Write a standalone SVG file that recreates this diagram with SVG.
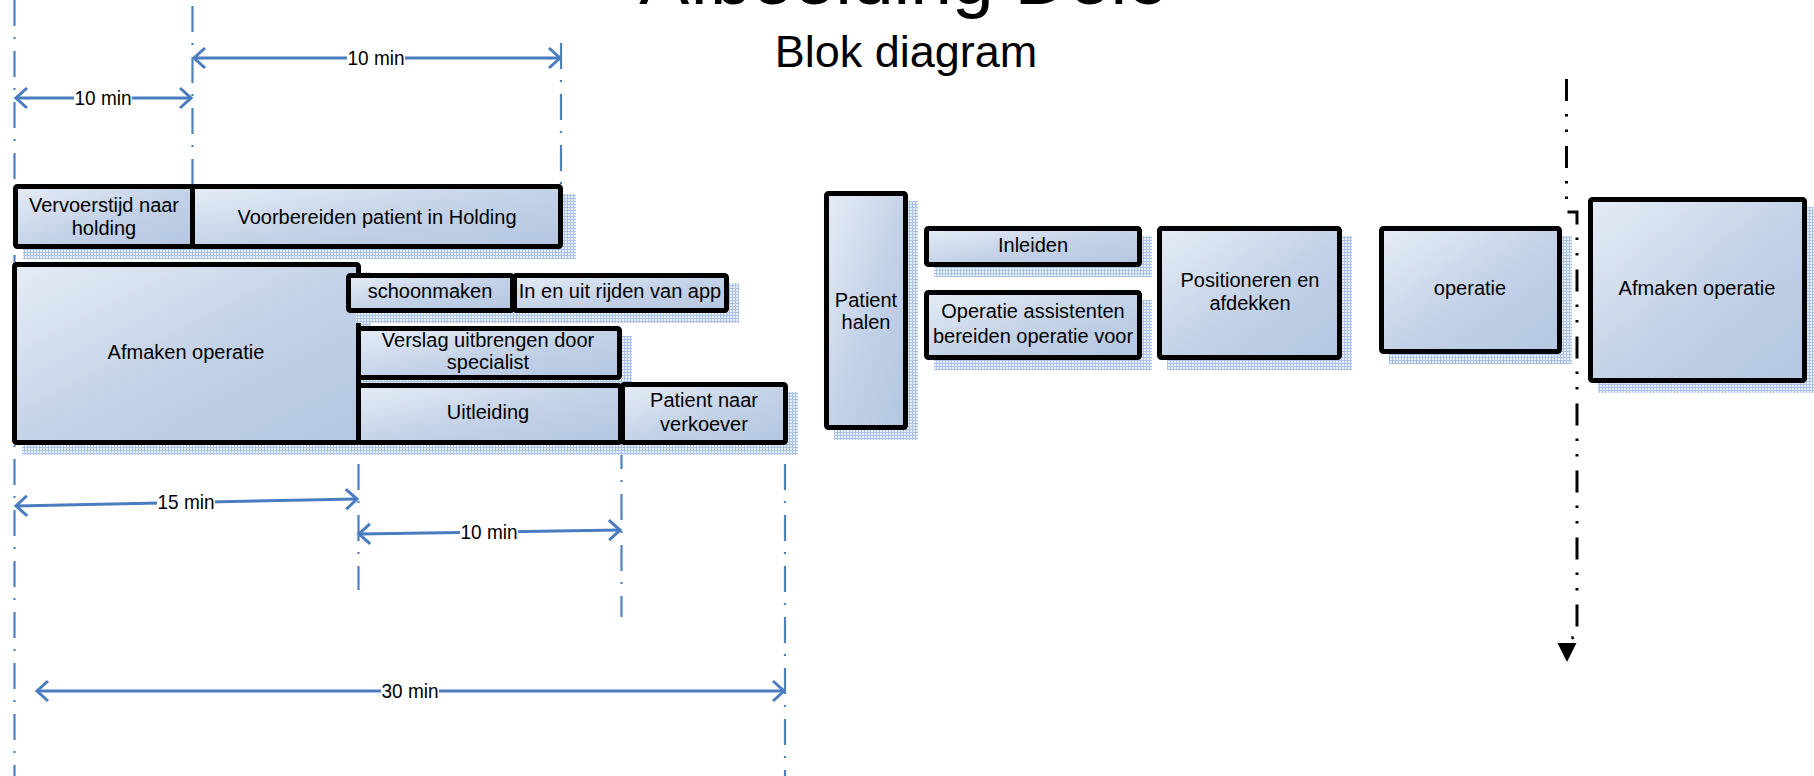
<svg xmlns="http://www.w3.org/2000/svg" width="1814" height="776" viewBox="0 0 1814 776">
<defs>
  <linearGradient id="boxFill" x1="0" y1="0" x2="1" y2="1">
    <stop offset="0" stop-color="#e6ecf6"/>
    <stop offset="0.55" stop-color="#c2d1e7"/>
    <stop offset="1" stop-color="#b4c6e1"/>
  </linearGradient>
  <pattern id="hatch" width="3" height="3" patternUnits="userSpaceOnUse">
    <rect width="3" height="3" fill="#e9eff8"/>
    <path d="M0,0.5H3M0.5,0V3" stroke="#a6bee0" stroke-width="0.9"/>
  </pattern>
  <marker id="chev" viewBox="-14 -12 16 24" refX="0" refY="0" markerWidth="16" markerHeight="24" markerUnits="userSpaceOnUse" orient="auto-start-reverse">
    <path d="M-11,-10 L0,0 L-11,10" fill="none" stroke="#4a7cc0" stroke-width="3"/>
  </marker>
  <marker id="tri" viewBox="0 -10 20 20" refX="0" refY="0" markerWidth="20" markerHeight="20" markerUnits="userSpaceOnUse" orient="auto">
    <polygon points="0,-9.5 19,0 0,9.5" fill="#000"/>
  </marker>
</defs>
<style>
  .t { font-family: "Liberation Sans", Arial, sans-serif; fill: #000; }
  .lbl { font-size: 20px; text-anchor: middle; }
  .dim { font-size: 21px; text-anchor: middle; }
  .box { fill: url(#boxFill); stroke: #000; stroke-width: 5; }
  .shadow { fill: url(#hatch); }
  .guide { stroke: #4f81bd; stroke-width: 2.2; fill: none; stroke-dasharray: 26 11 2 12; }
  .arrow { stroke: #4a7cc0; stroke-width: 3; fill: none; marker-start: url(#chev); marker-end: url(#chev); }
  .flow { stroke: #000; stroke-width: 3; fill: none; stroke-dasharray: 22 13 2.5 13 2.5 14; marker-end: url(#tri); }
  .bg { fill: #fff; }
</style>

<g id="title">
  <text class="t" x="904" y="4" font-size="75" text-anchor="middle">Afbeelding Delo</text>
  <text class="t" x="906" y="67" font-size="45" text-anchor="middle">Blok diagram</text>
</g>

<g id="connectors">
  <line class="guide" x1="14.5" y1="0" x2="14.5" y2="776"/>
  <line class="guide" x1="192.5" y1="6" x2="192.5" y2="186"/>
  <line class="guide" x1="561" y1="43" x2="561" y2="186"/>
  <line class="guide" x1="358.5" y1="413" x2="358.5" y2="590"/>
  <line class="guide" x1="621.5" y1="443" x2="621.5" y2="617"/>
  <line class="guide" x1="785" y1="413" x2="785" y2="776"/>

  <line class="arrow" x1="194" y1="58" x2="560" y2="58"/>
  <rect class="bg" x="347" y="47" width="58" height="22"/>
  <text class="t dim" x="376" y="65" textLength="57" lengthAdjust="spacingAndGlyphs">10 min</text>

  <line class="arrow" x1="16" y1="98" x2="191" y2="98"/>
  <rect class="bg" x="74" y="87" width="58" height="22"/>
  <text class="t dim" x="103" y="105" textLength="57" lengthAdjust="spacingAndGlyphs">10 min</text>

  <line class="arrow" x1="16" y1="506" x2="357" y2="499"/>
  <rect class="bg" x="157" y="491" width="58" height="22"/>
  <text class="t dim" x="186" y="509" textLength="57" lengthAdjust="spacingAndGlyphs">15 min</text>

  <line class="arrow" x1="359" y1="534" x2="620" y2="530"/>
  <rect class="bg" x="460" y="521" width="58" height="22"/>
  <text class="t dim" x="489" y="539" textLength="57" lengthAdjust="spacingAndGlyphs">10 min</text>

  <line class="arrow" x1="37" y1="691" x2="784" y2="691"/>
  <rect class="bg" x="381" y="680" width="58" height="22"/>
  <text class="t dim" x="410" y="698" textLength="57" lengthAdjust="spacingAndGlyphs">30 min</text>

  <path class="flow" d="M1566.5,79 V212 H1577 V636 L1567,640 V643"/>
</g>

<g id="node-vervoerstijd">
  <rect class="shadow" x="23" y="194" width="182" height="65"/>
  <rect class="box" x="15.5" y="186.5" width="177" height="60" rx="2"/>
  <text class="t lbl" x="104" y="212">Vervoerstijd naar</text>
  <text class="t lbl" x="104" y="235">holding</text>
</g>

<g id="node-voorbereiden">
  <rect class="shadow" x="200" y="194" width="376" height="65"/>
  <rect class="box" x="192.5" y="186.5" width="368" height="60" rx="2"/>
  <text class="t lbl" x="377" y="224">Voorbereiden patient in Holding</text>
</g>

<g id="node-afmaken-links">
  <rect class="shadow" x="22" y="272" width="349" height="183"/>
  <rect class="box" x="14.5" y="264.5" width="344" height="178" rx="2"/>
  <text class="t lbl" x="186" y="359">Afmaken operatie</text>
</g>

<g id="node-schoonmaken">
  <rect class="shadow" x="356" y="283" width="169" height="40"/>
  <rect class="box" x="348.5" y="275.5" width="164" height="35" rx="2"/>
  <text class="t lbl" x="430" y="298">schoonmaken</text>
</g>

<g id="node-in-en-uit">
  <rect class="shadow" x="522" y="283" width="217" height="40"/>
  <rect class="box" x="514.5" y="275.5" width="212" height="35" rx="2"/>
  <text class="t lbl" x="620" y="298">In en uit rijden van app</text>
</g>

<g id="node-verslag">
  <rect class="shadow" x="366" y="336" width="266" height="54"/>
  <rect class="box" x="358.5" y="328.5" width="261" height="49" rx="2"/>
  <text class="t lbl" x="488" y="347">Verslag uitbrengen door</text>
  <text class="t lbl" x="488" y="369">specialist</text>
</g>

<g id="node-uitleiding">
  <rect class="shadow" x="366" y="393" width="267" height="62"/>
  <rect class="box" x="358.5" y="385.5" width="262" height="57" rx="2"/>
  <text class="t lbl" x="488" y="419">Uitleiding</text>
</g>

<g id="node-patient-naar-verkoever">
  <rect class="shadow" x="630" y="392" width="168" height="63"/>
  <rect class="box" x="622.5" y="384.5" width="163" height="58" rx="2"/>
  <text class="t lbl" x="704" y="407">Patient naar</text>
  <text class="t lbl" x="704" y="431">verkoever</text>
</g>

<g id="node-patient-halen">
  <rect class="shadow" x="834" y="201" width="84" height="239"/>
  <rect class="box" x="826.5" y="193.5" width="79" height="234" rx="2"/>
  <text class="t lbl" x="866" y="307">Patient</text>
  <text class="t lbl" x="866" y="329">halen</text>
</g>

<g id="node-inleiden">
  <rect class="shadow" x="934" y="236" width="218" height="41"/>
  <rect class="box" x="926.5" y="228.5" width="213" height="36" rx="2"/>
  <text class="t lbl" x="1033" y="252">Inleiden</text>
</g>

<g id="node-operatie-assistenten">
  <rect class="shadow" x="934" y="300" width="218" height="70"/>
  <rect class="box" x="926.5" y="292.5" width="213" height="65" rx="2"/>
  <text class="t lbl" x="1033" y="318">Operatie assistenten</text>
  <text class="t lbl" x="1033" y="343">bereiden operatie voor</text>
</g>

<g id="node-positioneren">
  <rect class="shadow" x="1167" y="236" width="185" height="134"/>
  <rect class="box" x="1159.5" y="228.5" width="180" height="129" rx="2"/>
  <text class="t lbl" x="1250" y="287">Positioneren en</text>
  <text class="t lbl" x="1250" y="310">afdekken</text>
</g>

<g id="node-operatie">
  <rect class="shadow" x="1389" y="236" width="183" height="128"/>
  <rect class="box" x="1381.5" y="228.5" width="178" height="123" rx="2"/>
  <text class="t lbl" x="1470" y="295">operatie</text>
</g>

<g id="node-afmaken-rechts">
  <rect class="shadow" x="1598" y="207" width="219" height="186"/>
  <rect class="box" x="1590.5" y="199.5" width="214" height="181" rx="2"/>
  <text class="t lbl" x="1697" y="295">Afmaken operatie</text>
</g>
</svg>
